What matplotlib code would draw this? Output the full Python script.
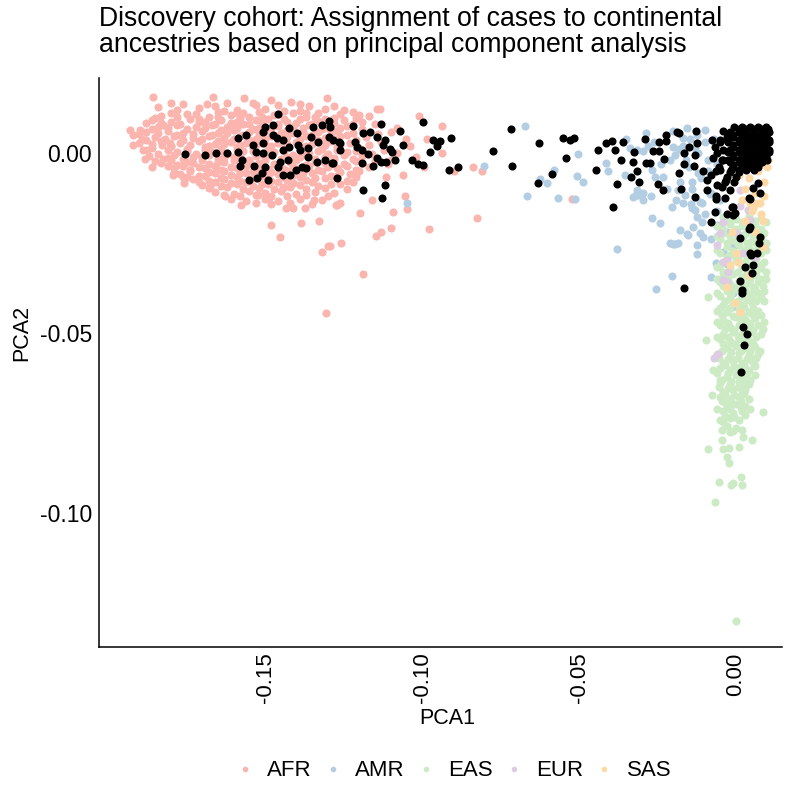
import matplotlib
matplotlib.use("Agg")
import matplotlib.pyplot as plt
from matplotlib.lines import Line2D

plt.rcParams['font.family'] = ['Liberation Sans', 'DejaVu Sans']

TITLE = "Discovery cohort: Assignment of cases to continental\nancestries based on principal component analysis"
XLABEL = "PCA1"
YLABEL = "PCA2"
XTICKS = [-0.15, -0.10, -0.05, 0.00]
XTICK_LABELS = ["-0.15", "-0.10", "-0.05", "0.00"]
YTICKS = [0.00, -0.05, -0.10]
YTICK_LABELS = ["0.00", "-0.05", "-0.10"]
GROUPS = ["AFR", "AMR", "EAS", "EUR", "SAS"]
COLORS = {"AFR": "#FBB4AE", "AMR": "#B3CDE3", "EAS": "#CCEBC5", "EUR": "#DECBE4", "SAS": "#FED9A6"}

AFR = [
    (-0.1930, 0.0064), (-0.1920, 0.0050), (-0.1898, 0.0064), (-0.1892, 0.0039), (-0.1876, 0.0008),
    (-0.1882, -0.0017), (-0.1860, -0.0039), (-0.1857, 0.0156), (-0.1841, 0.0128), (-0.1799, 0.0139),
    (-0.1825, 0.0078), (-0.1828, 0.0022), (-0.1825, -0.0017), (-0.1803, 0.0028), (-0.1793, -0.0061),
    (-0.1761, -0.0067), (-0.1758, -0.0083), (-0.1666, 0.0156), (-0.1685, 0.0136), (-0.1621, 0.0139),
    (-0.1567, 0.0153), (-0.1481, 0.0147), (-0.1417, 0.0142), (-0.1303, 0.0153), (-0.1627, -0.0119),
    (-0.1576, -0.0144), (-0.1481, -0.0200), (-0.1452, -0.0233), (-0.1433, -0.0153), (-0.1411, -0.0153),
    (-0.1373, -0.0153), (-0.1385, -0.0194), (-0.1328, -0.0189), (-0.1318, -0.0275), (-0.1299, -0.0258),
    (-0.1258, -0.0250), (-0.1274, -0.0144), (-0.1261, -0.0139), (-0.1344, -0.0131), (-0.1522, -0.0117),
    (-0.1487, -0.0125), (-0.1443, -0.0097), (-0.1411, -0.0083), (-0.1675, -0.0092), (-0.1306, -0.0444),
    (-0.1143, 0.0122), (-0.1134, 0.0122), (-0.1010, 0.0103), (-0.0936, 0.0075), (-0.0984, 0.0039),
    (-0.0936, 0.0000), (-0.1038, 0.0019), (-0.0994, -0.0039), (-0.0898, -0.0050), (-0.0838, -0.0039),
    (-0.0809, -0.0050), (-0.1115, -0.0067), (-0.1159, -0.0131), (-0.1054, -0.0119), (-0.1048, -0.0156),
    (-0.1092, -0.0164), (-0.1197, -0.0167), (-0.1271, -0.0144), (-0.0825, -0.0181), (-0.1099, -0.0208),
    (-0.1131, -0.0219), (-0.1146, -0.0231), (-0.0978, -0.0211), (-0.1293, -0.0258), (-0.0522, -0.0128),
    (-0.1188, -0.0336), (-0.1590, 0.0120), (-0.1530, 0.0132), (-0.1360, 0.0130), (-0.1250, 0.0120),
    (-0.1200, 0.0105), (-0.1080, 0.0070), (-0.1050, 0.0040), (-0.1020, -0.0010), (-0.1060, -0.0060),
    (-0.1100, -0.0020),
    (-0.178, 0.0118), (-0.171, 0.0124), (-0.163, 0.0116), (-0.157, 0.0110), (-0.150, 0.0121),
    (-0.144, 0.0115), (-0.137, 0.0112), (-0.131, 0.0122), (-0.126, 0.0108),
    (-0.183, 0.0103), (-0.175, 0.0108), (-0.168, 0.0100), (-0.161, 0.0106), (-0.155, 0.0099),
    (-0.147, 0.0104), (-0.141, 0.0110), (-0.134, 0.0101), (-0.128, 0.0097), (-0.117, 0.0102),
    (-0.186, 0.0091), (-0.180, 0.0087), (-0.174, 0.0094), (-0.169, 0.0086), (-0.164, 0.0092),
    (-0.159, 0.0085), (-0.153, 0.0090), (-0.149, 0.0095), (-0.143, 0.0087), (-0.139, 0.0093),
    (-0.133, 0.0088), (-0.125, 0.0092), (-0.119, 0.0085),
    (-0.184, 0.0073), (-0.178, 0.0078), (-0.172, 0.0071), (-0.167, 0.0077), (-0.162, 0.0072),
    (-0.157, 0.0079), (-0.152, 0.0070), (-0.146, 0.0076), (-0.141, 0.0072), (-0.136, 0.0078),
    (-0.130, 0.0070), (-0.124, 0.0075), (-0.115, 0.0079),
    (-0.188, 0.0058), (-0.181, 0.0062), (-0.176, 0.0056), (-0.170, 0.0061), (-0.165, 0.0055),
    (-0.160, 0.0063), (-0.155, 0.0057), (-0.150, 0.0060), (-0.145, 0.0054), (-0.138, 0.0062),
    (-0.133, 0.0057), (-0.127, 0.0061), (-0.122, 0.0055), (-0.110, 0.0058),
    (-0.185, 0.0043), (-0.179, 0.0047), (-0.173, 0.0041), (-0.168, 0.0048), (-0.163, 0.0042),
    (-0.158, 0.0046), (-0.153, 0.0040), (-0.148, 0.0047), (-0.143, 0.0043), (-0.137, 0.0048),
    (-0.131, 0.0041), (-0.126, 0.0046), (-0.118, 0.0043),
    (-0.190, 0.0028), (-0.183, 0.0032), (-0.177, 0.0027), (-0.171, 0.0033), (-0.166, 0.0026),
    (-0.161, 0.0031), (-0.156, 0.0028), (-0.151, 0.0034), (-0.146, 0.0027), (-0.140, 0.0031),
    (-0.135, 0.0025), (-0.129, 0.0032), (-0.123, 0.0028), (-0.113, 0.0030),
    (-0.186, 0.0013), (-0.180, 0.0018), (-0.175, 0.0012), (-0.169, 0.0017), (-0.164, 0.0011),
    (-0.159, 0.0016), (-0.154, 0.0013), (-0.149, 0.0019), (-0.144, 0.0012), (-0.138, 0.0017),
    (-0.132, 0.0011), (-0.127, 0.0016), (-0.120, 0.0014),
    (-0.184, -0.0002), (-0.178, 0.0003), (-0.172, -0.0004), (-0.167, 0.0002), (-0.162, -0.0003),
    (-0.157, 0.0004), (-0.152, -0.0002), (-0.147, 0.0003), (-0.141, -0.0005), (-0.136, 0.0001),
    (-0.130, -0.0003), (-0.124, 0.0002), (-0.116, -0.0004), (-0.108, 0.0001),
    (-0.181, -0.0013), (-0.176, -0.0018), (-0.170, -0.0012), (-0.165, -0.0017), (-0.160, -0.0011),
    (-0.155, -0.0019), (-0.150, -0.0013), (-0.145, -0.0016), (-0.139, -0.0011), (-0.134, -0.0018),
    (-0.128, -0.0014), (-0.122, -0.0017),
    (-0.183, -0.0028), (-0.178, -0.0033), (-0.173, -0.0027), (-0.168, -0.0032), (-0.163, -0.0026),
    (-0.158, -0.0034), (-0.152, -0.0029), (-0.147, -0.0031), (-0.142, -0.0026), (-0.137, -0.0033),
    (-0.131, -0.0028), (-0.125, -0.0032), (-0.119, -0.0027), (-0.111, -0.0031),
    (-0.179, -0.0043), (-0.174, -0.0048), (-0.169, -0.0042), (-0.164, -0.0047), (-0.159, -0.0041),
    (-0.154, -0.0049), (-0.149, -0.0044), (-0.144, -0.0046), (-0.139, -0.0041), (-0.133, -0.0048),
    (-0.127, -0.0043), (-0.121, -0.0047),
    (-0.177, -0.0058), (-0.171, -0.0063), (-0.166, -0.0057), (-0.161, -0.0062), (-0.156, -0.0056),
    (-0.151, -0.0064), (-0.146, -0.0059), (-0.141, -0.0061), (-0.135, -0.0056), (-0.129, -0.0063),
    (-0.123, -0.0058),
    (-0.173, -0.0073), (-0.168, -0.0078), (-0.163, -0.0072), (-0.158, -0.0077), (-0.153, -0.0071),
    (-0.148, -0.0079), (-0.143, -0.0074), (-0.137, -0.0076), (-0.131, -0.0071), (-0.124, -0.0078),
    (-0.170, -0.0088), (-0.164, -0.0093), (-0.159, -0.0087), (-0.154, -0.0092), (-0.149, -0.0086),
    (-0.144, -0.0094), (-0.139, -0.0089), (-0.133, -0.0091), (-0.126, -0.0086),
    (-0.166, -0.0108), (-0.160, -0.0113), (-0.155, -0.0107), (-0.150, -0.0112), (-0.145, -0.0106),
    (-0.140, -0.0114), (-0.134, -0.0109), (-0.128, -0.0111),
    (-0.161, -0.0128), (-0.156, -0.0133), (-0.150, -0.0127), (-0.146, -0.0134), (-0.139, -0.0129),
    (-0.132, -0.0131),
]

AFR_DENSE = [
    (-0.176, 0.0135), (-0.166, 0.0131), (-0.154, 0.0138), (-0.146, 0.0133), (-0.139, 0.0136), (-0.128, 0.0131),
    (-0.180, 0.0112), (-0.172, 0.0109), (-0.165, 0.0114), (-0.159, 0.0110), (-0.152, 0.0113),
    (-0.146, 0.0108), (-0.139, 0.0115), (-0.133, 0.0110), (-0.122, 0.0113),
    (-0.185, 0.0097), (-0.178, 0.0099), (-0.171, 0.0095), (-0.165, 0.0100), (-0.158, 0.0096),
    (-0.151, 0.0099), (-0.144, 0.0094), (-0.137, 0.0100), (-0.131, 0.0095), (-0.121, 0.0098),
    (-0.188, 0.0082), (-0.183, 0.0084), (-0.177, 0.0080), (-0.171, 0.0085), (-0.166, 0.0081),
    (-0.161, 0.0083), (-0.155, 0.0079), (-0.151, 0.0084), (-0.146, 0.0080), (-0.140, 0.0083),
    (-0.135, 0.0081), (-0.128, 0.0084), (-0.122, 0.0080),
    (-0.186, 0.0067), (-0.181, 0.0069), (-0.175, 0.0065), (-0.169, 0.0068), (-0.164, 0.0064),
    (-0.159, 0.0069), (-0.154, 0.0066), (-0.148, 0.0068), (-0.143, 0.0064), (-0.138, 0.0069),
    (-0.132, 0.0065), (-0.126, 0.0068), (-0.119, 0.0066),
    (-0.190, 0.0052), (-0.184, 0.0054), (-0.178, 0.0050), (-0.173, 0.0053), (-0.167, 0.0049),
    (-0.162, 0.0054), (-0.157, 0.0051), (-0.152, 0.0053), (-0.147, 0.0049), (-0.141, 0.0054),
    (-0.135, 0.0050), (-0.129, 0.0053), (-0.124, 0.0051), (-0.114, 0.0052),
    (-0.188, 0.0037), (-0.182, 0.0039), (-0.176, 0.0035), (-0.170, 0.0038), (-0.165, 0.0034),
    (-0.160, 0.0039), (-0.155, 0.0036), (-0.150, 0.0038), (-0.145, 0.0034), (-0.139, 0.0039),
    (-0.133, 0.0035), (-0.127, 0.0038), (-0.121, 0.0036),
    (-0.192, 0.0022), (-0.186, 0.0024), (-0.180, 0.0020), (-0.174, 0.0023), (-0.168, 0.0019),
    (-0.163, 0.0024), (-0.158, 0.0021), (-0.153, 0.0023), (-0.148, 0.0019), (-0.143, 0.0024),
    (-0.137, 0.0020), (-0.131, 0.0023), (-0.126, 0.0021), (-0.117, 0.0022),
    (-0.189, 0.0007), (-0.181, 0.0009), (-0.175, 0.0005), (-0.169, 0.0008), (-0.164, 0.0004),
    (-0.159, 0.0009), (-0.154, 0.0006), (-0.149, 0.0008), (-0.144, 0.0004), (-0.139, 0.0009),
    (-0.133, 0.0005), (-0.127, 0.0008), (-0.121, 0.0006), (-0.112, 0.0007),
    (-0.187, -0.0008), (-0.179, -0.0006), (-0.173, -0.0010), (-0.168, -0.0007), (-0.163, -0.0011),
    (-0.158, -0.0006), (-0.153, -0.0009), (-0.148, -0.0007), (-0.143, -0.0011), (-0.137, -0.0006),
    (-0.131, -0.0010), (-0.125, -0.0007), (-0.119, -0.0009),
    (-0.185, -0.0022), (-0.180, -0.0020), (-0.175, -0.0024), (-0.170, -0.0021), (-0.165, -0.0025),
    (-0.160, -0.0020), (-0.155, -0.0023), (-0.150, -0.0021), (-0.145, -0.0025), (-0.140, -0.0020),
    (-0.134, -0.0024), (-0.128, -0.0021), (-0.121, -0.0023), (-0.115, -0.0022),
    (-0.181, -0.0037), (-0.176, -0.0035), (-0.171, -0.0039), (-0.166, -0.0036), (-0.161, -0.0040),
    (-0.156, -0.0035), (-0.151, -0.0038), (-0.146, -0.0036), (-0.141, -0.0040), (-0.136, -0.0035),
    (-0.130, -0.0039), (-0.124, -0.0036), (-0.117, -0.0038),
    (-0.179, -0.0052), (-0.174, -0.0050), (-0.168, -0.0054), (-0.163, -0.0051), (-0.158, -0.0055),
    (-0.153, -0.0050), (-0.148, -0.0053), (-0.143, -0.0051), (-0.138, -0.0055), (-0.132, -0.0050),
    (-0.126, -0.0054), (-0.120, -0.0051),
    (-0.175, -0.0067), (-0.169, -0.0065), (-0.164, -0.0069), (-0.159, -0.0066), (-0.154, -0.0070),
    (-0.149, -0.0065), (-0.144, -0.0068), (-0.139, -0.0066), (-0.134, -0.0070), (-0.127, -0.0065),
    (-0.121, -0.0068),
    (-0.171, -0.0082), (-0.166, -0.0080), (-0.161, -0.0084), (-0.156, -0.0081), (-0.151, -0.0085),
    (-0.146, -0.0080), (-0.141, -0.0083), (-0.135, -0.0081), (-0.129, -0.0085), (-0.122, -0.0080),
    (-0.168, -0.0098), (-0.162, -0.0096), (-0.157, -0.0100), (-0.152, -0.0097), (-0.147, -0.0101),
    (-0.142, -0.0096), (-0.137, -0.0099), (-0.131, -0.0097), (-0.124, -0.0100),
    (-0.163, -0.0118), (-0.158, -0.0120), (-0.153, -0.0116), (-0.148, -0.0119), (-0.143, -0.0121),
    (-0.137, -0.0117), (-0.130, -0.0120),
    (-0.153, -0.0140), (-0.148, -0.0143), (-0.142, -0.0139), (-0.135, -0.0142),
]

AMR = [
    (-0.0672, 0.0075), (-0.0803, -0.0036), (-0.1048, -0.0139), (-0.0666, -0.0119), (-0.0624, -0.0072),
    (-0.0602, -0.0083), (-0.0580, -0.0047), (-0.0567, -0.0125), (-0.0513, -0.0128), (-0.0503, -0.0003),
    (-0.0506, -0.0064), (-0.0487, -0.0081), (-0.0414, -0.0028), (-0.0408, -0.0050), (-0.0354, -0.0061),
    (-0.0338, 0.0014), (-0.0315, 0.0008), (-0.0296, 0.0006), (-0.0268, -0.0047), (-0.0258, -0.0067),
    (-0.0232, -0.0067), (-0.0201, 0.0017), (-0.0194, -0.0006), (-0.0169, 0.0042), (-0.0146, 0.0039),
    (-0.0131, 0.0014), (-0.0178, -0.0081), (-0.0140, -0.0081), (-0.0121, -0.0056), (-0.0185, -0.0103),
    (-0.0162, -0.0117), (-0.0140, -0.0153), (-0.0115, -0.0136), (-0.0204, -0.0150), (-0.0268, -0.0181),
    (-0.0242, -0.0194), (-0.0315, -0.0103), (-0.0312, -0.0117), (-0.0328, -0.0122), (-0.0178, -0.0214),
    (-0.0156, -0.0225), (-0.0137, -0.0206), (-0.0124, -0.0178), (-0.0108, -0.0192), (-0.0105, -0.0233),
    (-0.0124, -0.0256), (-0.0201, -0.0253), (-0.0210, -0.0250), (-0.0379, -0.0267), (-0.0124, -0.0281),
    (-0.0041, -0.0275), (-0.0287, 0.0056), (-0.0156, 0.0069), (-0.0099, 0.0064), (-0.0124, 0.0050),
    (-0.0255, -0.0378), (-0.0204, -0.0342), (-0.0194, -0.0253), (-0.0185, -0.0250), (-0.0064, -0.0306),
    (-0.0080, -0.0344), (-0.0169, -0.0139), (-0.0143, -0.0142), (-0.0108, -0.0139), (-0.0083, -0.0114),
    (-0.0296, -0.0111), (-0.0318, -0.0117), (-0.0296, -0.0131), (-0.0029, -0.0308), (-0.0010, -0.0389),
    (-0.0013, -0.0428), (-0.0115, -0.0222), (-0.0153, -0.0228), (-0.0131, -0.0158),
    (-0.0200, 0.0060), (-0.0170, 0.0020), (-0.0120, 0.0000), (-0.0090, -0.0020), (-0.0150, -0.0040),
    (-0.0110, -0.0070), (-0.0060, -0.0030), (-0.0070, 0.0040), (-0.0040, -0.0090), (-0.0080, -0.0110),
    (-0.0050, -0.0130), (-0.0210, -0.0020), (-0.0260, 0.0030), (-0.0350, 0.0040), (-0.0220, -0.0100),
    (-0.0270, -0.0120), (-0.0100, -0.0170), (-0.0060, -0.0200), (-0.0030, -0.0220), (-0.0080, -0.0240),
    (-0.0010, -0.0260), (-0.0180, 0.0010), (-0.0160, -0.0020), (-0.0100, 0.0030), (-0.0090, -0.0050),
    (-0.0140, -0.0100), (-0.0190, -0.0130), (-0.0060, -0.0160), (-0.0240, -0.0030), (-0.0280, 0.0020),
]

EAS = [
    (-0.004, -0.0178), (0.000, -0.0183), (0.004, -0.0176), (0.008, -0.0182),
    (-0.006, -0.0202), (-0.002, -0.0197), (0.002, -0.0203), (0.006, -0.0198),
    (-0.004, -0.0223), (0.000, -0.0217), (0.003, -0.0224), (0.007, -0.0219), (0.009, -0.0222),
    (-0.005, -0.0238), (-0.001, -0.0243), (0.002, -0.0237), (0.005, -0.0244), (0.008, -0.0239),
    (-0.003, -0.0262), (0.001, -0.0257), (0.004, -0.0263), (0.007, -0.0258),
    (-0.005, -0.0278), (-0.002, -0.0284), (0.001, -0.0279), (0.005, -0.0285), (0.008, -0.0277),
    (-0.004, -0.0303), (0.000, -0.0297), (0.003, -0.0302), (0.006, -0.0296), (0.009, -0.0304),
    (-0.006, -0.0318), (-0.002, -0.0323), (0.002, -0.0317), (0.005, -0.0322), (0.008, -0.0319),
    (-0.004, -0.0343), (-0.001, -0.0337), (0.003, -0.0342), (0.006, -0.0338),
    (-0.005, -0.0358), (-0.002, -0.0363), (0.001, -0.0357), (0.004, -0.0362), (0.007, -0.0359),
    (-0.003, -0.0383), (0.000, -0.0377), (0.003, -0.0382), (0.006, -0.0378), (0.009, -0.0384),
    (-0.005, -0.0398), (-0.002, -0.0403), (0.002, -0.0397), (0.005, -0.0402), (0.008, -0.0399),
    (-0.004, -0.0423), (-0.001, -0.0417), (0.002, -0.0422), (0.005, -0.0418),
    (-0.006, -0.0438), (-0.003, -0.0443), (0.001, -0.0437), (0.004, -0.0442), (0.007, -0.0439),
    (-0.004, -0.0463), (0.000, -0.0457), (0.003, -0.0462), (0.006, -0.0458),
    (-0.005, -0.0478), (-0.002, -0.0483), (0.001, -0.0477), (0.004, -0.0482), (0.007, -0.0479),
    (-0.004, -0.0503), (-0.001, -0.0497), (0.002, -0.0502), (0.005, -0.0498), (0.008, -0.0504),
    (-0.005, -0.0518), (-0.002, -0.0523), (0.001, -0.0517), (0.004, -0.0522),
    (-0.003, -0.0543), (0.000, -0.0537), (0.003, -0.0542), (0.006, -0.0538),
    (-0.006, -0.0558), (-0.002, -0.0563), (0.001, -0.0557), (0.004, -0.0562), (0.007, -0.0559),
    (-0.004, -0.0583), (-0.001, -0.0577), (0.002, -0.0582), (0.005, -0.0578),
    (-0.005, -0.0598), (-0.002, -0.0603), (0.001, -0.0597), (0.004, -0.0602),
    (-0.003, -0.0623), (0.000, -0.0617), (0.003, -0.0622), (0.006, -0.0618),
    (-0.005, -0.0638), (-0.002, -0.0643), (0.001, -0.0637), (0.004, -0.0642),
    (-0.004, -0.0663), (-0.001, -0.0657), (0.002, -0.0662),
    (-0.005, -0.0678), (-0.002, -0.0683), (0.001, -0.0677), (0.004, -0.0682),
    (-0.003, -0.0703), (0.000, -0.0697), (0.003, -0.0702),
    (-0.004, -0.0718), (-0.001, -0.0723), (0.002, -0.0717),
    (-0.005, -0.0743), (-0.002, -0.0737), (0.001, -0.0742),
    (-0.003, -0.0758), (0.000, -0.0763),
    (0.0000, -0.1300), (-0.0089, -0.0822), (-0.0067, -0.0969), (0.0016, -0.0900), (0.0019, -0.0922),
    (-0.0054, -0.0914), (-0.0016, -0.0922), (-0.0010, -0.0917), (0.0051, -0.0797), (0.0022, -0.0789),
    (0.0010, -0.0817), (-0.0022, -0.0819), (-0.0041, -0.0822), (-0.0029, -0.0844), (-0.0022, -0.0861),
    (-0.0045, -0.0797), (-0.0019, -0.0775), (-0.0041, -0.0747), (-0.0035, -0.0692), (-0.0076, -0.0672),
    (-0.0073, -0.0603), (-0.0051, -0.0631), (0.0057, -0.0586), (0.0029, -0.0636), (0.0029, -0.0658),
    (-0.0090, -0.0400), (-0.0095, -0.0520), (0.0095, -0.0350), (0.0090, -0.0470), (0.0085, -0.0720),
]

EAS_DENSE = [
    (-0.002, -0.0190), (0.002, -0.0192), (0.006, -0.0189), (0.0095, -0.0191),
    (-0.004, -0.0210), (0.000, -0.0212), (0.004, -0.0209), (0.008, -0.0211),
    (-0.006, -0.0230), (-0.002, -0.0232), (0.001, -0.0229), (0.0055, -0.0231),
    (-0.003, -0.0250), (0.0005, -0.0252), (0.0035, -0.0249), (0.0065, -0.0251), (0.0095, -0.0250),
    (-0.006, -0.0270), (-0.001, -0.0272), (0.0025, -0.0269), (0.006, -0.0271), (0.0095, -0.0270),
    (-0.003, -0.0290), (0.0005, -0.0292), (0.0035, -0.0289), (0.0065, -0.0291),
    (-0.005, -0.0310), (-0.002, -0.0312), (0.0015, -0.0309), (0.0045, -0.0311), (0.0075, -0.0310),
    (-0.004, -0.0330), (0.0005, -0.0332), (0.0035, -0.0329), (0.0065, -0.0331), (0.0095, -0.0330),
    (-0.006, -0.0350), (-0.0025, -0.0352), (0.0015, -0.0349), (0.0045, -0.0351), (0.008, -0.0350),
    (-0.004, -0.0370), (-0.0005, -0.0372), (0.0025, -0.0369), (0.0055, -0.0371), (0.0085, -0.0370),
    (-0.006, -0.0390), (-0.0015, -0.0392), (0.0015, -0.0389), (0.0045, -0.0391), (0.007, -0.0390),
    (-0.0035, -0.0410), (0.0005, -0.0412), (0.0035, -0.0409), (0.0065, -0.0411), (0.009, -0.0410),
    (-0.005, -0.0430), (-0.002, -0.0432), (0.0025, -0.0429), (0.0055, -0.0431),
    (-0.0045, -0.0450), (-0.001, -0.0452), (0.002, -0.0449), (0.0055, -0.0451), (0.008, -0.0450),
    (-0.006, -0.0470), (-0.0025, -0.0472), (0.0015, -0.0469), (0.0045, -0.0471),
    (-0.0035, -0.0490), (-0.0005, -0.0492), (0.0025, -0.0489), (0.0055, -0.0491), (0.0085, -0.0490),
    (-0.006, -0.0510), (-0.0025, -0.0512), (0.0005, -0.0509), (0.0035, -0.0511), (0.0065, -0.0510),
    (-0.004, -0.0530), (-0.0005, -0.0532), (0.0025, -0.0529), (0.0055, -0.0531),
    (-0.0045, -0.0550), (-0.0015, -0.0552), (0.0015, -0.0549), (0.0045, -0.0551), (0.0075, -0.0550),
    (-0.0055, -0.0570), (-0.0025, -0.0572), (0.0005, -0.0569), (0.0035, -0.0571), (0.0065, -0.0570),
    (-0.0035, -0.0590), (-0.0005, -0.0592), (0.0025, -0.0589), (0.006, -0.0591),
    (-0.006, -0.0610), (-0.0025, -0.0612), (0.0005, -0.0609), (0.0035, -0.0611),
    (-0.0045, -0.0630), (-0.0015, -0.0632), (0.0015, -0.0629), (0.0045, -0.0631),
    (-0.0055, -0.0650), (-0.0025, -0.0652), (0.0005, -0.0649), (0.003, -0.0651),
    (-0.0035, -0.0670), (-0.0005, -0.0672), (0.0025, -0.0669),
    (-0.0045, -0.0690), (-0.0015, -0.0692), (0.0015, -0.0689),
    (-0.006, -0.0710), (-0.002, -0.0712), (0.0015, -0.0709), (0.0045, -0.0711),
    (-0.0035, -0.0730), (-0.0005, -0.0732), (0.003, -0.0729),
    (-0.0045, -0.0770), (-0.001, -0.0772), (0.002, -0.0769),
]

EUR = [
    (-0.0051, -0.0222), (-0.0041, -0.0303), (-0.0025, -0.0331), (-0.0029, -0.0358), (0.0022, -0.0278),
    (0.0013, -0.0147), (0.0045, -0.0186), (0.0003, -0.0222), (-0.0057, -0.0558), (-0.0029, -0.0297),
    (-0.0041, -0.0353), (0.0038, -0.0158), (0.0054, -0.0150), (-0.0041, -0.0192), (0.0013, -0.0103),
    (-0.0022, 0.0008), (0.0013, 0.0064), (-0.0070, -0.0570), (-0.0060, -0.0255), (0.0060, -0.0290),
]

SAS = [
    (0.0054, -0.0153), (0.0000, -0.0278), (0.0006, -0.0303), (-0.0029, -0.0372), (-0.0003, -0.0417),
    (-0.0013, -0.0219), (0.0067, -0.0139), (0.0045, -0.0139), (0.0076, -0.0139), (0.0013, -0.0442),
    (0.0010, -0.0060), (0.0040, -0.0070), (0.0070, -0.0050), (0.0090, -0.0080), (0.0030, -0.0100),
    (0.0060, -0.0110), (0.0090, -0.0120), (0.0020, -0.0130), (0.0050, -0.0160), (0.0080, -0.0170),
    (0.0100, -0.0040), (0.0095, 0.0000), (0.0102, -0.0020), (0.0085, -0.0190), (0.0030, -0.0190),
    (-0.0010, -0.0160), (0.0060, -0.0220), (0.0085, -0.0260), (-0.0020, -0.0310), (0.0040, -0.0340),
]

CASES = [
    (-0.1755, -0.0003), (-0.1690, -0.0006), (-0.1656, 0.0000), (-0.1620, 0.0000), (-0.1586, 0.0003),
    (-0.1586, 0.0042), (-0.1560, 0.0050), (-0.1573, -0.0019), (-0.1580, -0.0036), (-0.1538, 0.0022),
    (-0.1530, 0.0003), (-0.1535, -0.0036), (-0.1550, -0.0075), (-0.1525, -0.0070), (-0.1510, -0.0056),
    (-0.1490, -0.0075), (-0.1500, -0.0039), (-0.1506, 0.0000), (-0.1506, 0.0028), (-0.1506, 0.0058),
    (-0.1500, 0.0072), (-0.1475, 0.0078), (-0.1459, 0.0108), (-0.1475, 0.0050), (-0.1462, 0.0042),
    (-0.1443, 0.0036), (-0.1443, 0.0008), (-0.1478, -0.0006), (-0.1452, -0.0025), (-0.1459, -0.0039),
    (-0.1443, -0.0061), (-0.1420, -0.0061), (-0.1427, -0.0019), (-0.1424, 0.0017), (-0.1424, 0.0069),
    (-0.1398, 0.0056), (-0.1395, 0.0022), (-0.1389, 0.0008), (-0.1382, -0.0039), (-0.1369, -0.0042),
    (-0.1363, -0.0011), (-0.1363, 0.0014), (-0.1347, 0.0072), (-0.1354, 0.0044), (-0.1331, 0.0031),
    (-0.1334, -0.0025), (-0.1318, 0.0078), (-0.1296, 0.0089), (-0.1293, 0.0072), (-0.1296, 0.0044),
    (-0.1283, 0.0036), (-0.1264, 0.0031), (-0.1261, 0.0008), (-0.1309, -0.0019), (-0.1287, -0.0028),
    (-0.1271, -0.0070), (-0.1401, -0.0047),
    (-0.1220, 0.0075), (-0.1131, 0.0081), (-0.1188, 0.0056), (-0.1166, 0.0058), (-0.1143, 0.0044),
    (-0.1070, 0.0061), (-0.0997, 0.0086), (-0.0965, 0.0036), (-0.0943, 0.0033), (-0.0908, 0.0042),
    (-0.0952, 0.0019), (-0.0975, 0.0003), (-0.1061, 0.0022), (-0.1102, 0.0011), (-0.1118, 0.0036),
    (-0.1124, 0.0022), (-0.1096, 0.0003), (-0.1172, -0.0003), (-0.1191, 0.0008), (-0.1213, 0.0031),
    (-0.1207, 0.0017), (-0.1261, 0.0028), (-0.1283, -0.0028), (-0.1191, -0.0028), (-0.1143, -0.0014),
    (-0.1131, -0.0025), (-0.1156, -0.0036), (-0.1115, -0.0025), (-0.1086, -0.0019), (-0.1032, -0.0019),
    (-0.1013, -0.0031), (-0.0997, -0.0033), (-0.0914, -0.0047), (-0.0885, -0.0039), (-0.1118, -0.0089),
    (-0.1188, -0.0103), (-0.1127, -0.0125), (-0.0774, 0.0006), (-0.0717, 0.0067), (-0.0713, -0.0036),
    (-0.0627, 0.0028), (-0.0551, 0.0042), (-0.0529, 0.0036), (-0.0516, 0.0042), (-0.0541, -0.0014),
    (-0.0586, -0.0058), (-0.0631, -0.0083),
    (-0.0446, -0.0047), (-0.0439, 0.0008), (-0.0414, 0.0028), (-0.0395, 0.0033), (-0.0360, 0.0031),
    (-0.0385, 0.0008), (-0.0366, -0.0019), (-0.0325, 0.0003), (-0.0328, -0.0025), (-0.0315, -0.0050),
    (-0.0334, -0.0067), (-0.0309, -0.0081), (-0.0379, -0.0086), (-0.0392, -0.0150), (-0.0290, 0.0039),
    (-0.0287, -0.0028), (-0.0264, 0.0006), (-0.0274, -0.0028), (-0.0245, 0.0031), (-0.0245, 0.0006),
    (-0.0223, 0.0050), (-0.0223, 0.0033), (-0.0229, -0.0017), (-0.0248, -0.0086), (-0.0232, -0.0103),
    (-0.0188, 0.0058), (-0.0182, 0.0056), (-0.0166, 0.0000), (-0.0166, -0.0031), (-0.0182, -0.0056),
    (-0.0175, -0.0100), (-0.0150, 0.0017), (-0.0127, 0.0061), (-0.0124, 0.0028), (-0.0131, -0.0006),
    (-0.0134, -0.0036), (-0.0131, -0.0122), (-0.0105, -0.0050), (-0.0092, -0.0075), (-0.0092, -0.0103),
    (-0.0067, -0.0164), (-0.0080, -0.0192), (-0.0076, 0.0036), (-0.0067, 0.0017), (-0.0051, 0.0036),
    (-0.0029, 0.0044), (-0.0041, 0.0008), (-0.0041, -0.0019), (-0.0073, -0.0014), (-0.0051, -0.0047),
    (-0.0032, -0.0075), (-0.0019, -0.0103), (-0.0013, -0.0150), (-0.0003, -0.0167), (0.0013, -0.0236),
    (0.0045, -0.0206), (0.0041, -0.0125), (0.0054, -0.0097), (0.0070, -0.0083), (0.0076, -0.0111),
    (0.0076, -0.0233), (0.0073, -0.0250), (0.0045, -0.0278), (0.0067, -0.0278),
    (-0.0064, -0.0128), (-0.0029, -0.0169), (-0.0010, -0.0172), (-0.0010, -0.0150), (0.0045, -0.0128),
    (0.0041, -0.0211), (0.0048, -0.0283), (0.0054, -0.0311), (0.0029, -0.0317), (0.0051, -0.0333),
    (0.0013, -0.0356), (0.0019, -0.0381), (0.0019, -0.0389), (-0.0166, -0.0375), (0.0022, -0.0483),
    (0.0035, -0.0503), (0.0025, -0.0533), (0.0016, -0.0608),
]

CASES_CLUSTER = [
    (-0.0005, 0.0072), (0.0020, 0.0072), (0.0045, 0.0072), (0.0070, 0.0072), (0.0095, 0.0072),
    (-0.0020, 0.0058), (0.0008, 0.0058), (0.0033, 0.0058), (0.0058, 0.0058), (0.0083, 0.0058), (0.0105, 0.0058),
    (-0.0010, 0.0044), (0.0020, 0.0044), (0.0045, 0.0044), (0.0070, 0.0044), (0.0095, 0.0044),
    (-0.0025, 0.0030), (0.0008, 0.0030), (0.0033, 0.0030), (0.0058, 0.0030), (0.0083, 0.0030), (0.0105, 0.0030),
    (-0.0010, 0.0016), (0.0020, 0.0016), (0.0045, 0.0016), (0.0070, 0.0016), (0.0095, 0.0016),
    (-0.0025, 0.0002), (0.0008, 0.0002), (0.0033, 0.0002), (0.0058, 0.0002), (0.0083, 0.0002), (0.0105, 0.0002),
    (-0.0010, -0.0012), (0.0020, -0.0012), (0.0045, -0.0012), (0.0070, -0.0012), (0.0095, -0.0012),
    (-0.0020, -0.0026), (0.0008, -0.0026), (0.0033, -0.0026), (0.0058, -0.0026), (0.0083, -0.0026),
    (-0.0010, -0.0040), (0.0020, -0.0040), (0.0045, -0.0040), (0.0070, -0.0040),
    (-0.0020, -0.0054), (0.0008, -0.0054), (-0.0030, -0.0068), (0.0000, -0.0068),
    (-0.0035, -0.0082), (-0.0005, -0.0082), (-0.0045, -0.0096), (-0.0055, -0.0040), (-0.0080, -0.0060),
    (-0.0060, -0.0090), (-0.0035, -0.0125), (-0.0065, -0.0120),
    (0.0008, 0.0065), (0.0033, 0.0065), (0.0058, 0.0065), (0.0083, 0.0065), (0.0103, 0.0065),
    (-0.0010, 0.0051), (0.0020, 0.0051), (0.0045, 0.0051), (0.0070, 0.0051), (0.0095, 0.0051),
    (-0.0030, 0.0037), (0.0008, 0.0037), (0.0033, 0.0037), (0.0058, 0.0037), (0.0083, 0.0037), (0.0105, 0.0037),
    (-0.0010, 0.0023), (0.0020, 0.0023), (0.0045, 0.0023), (0.0070, 0.0023), (0.0095, 0.0023),
    (-0.0020, 0.0009), (0.0008, 0.0009), (0.0033, 0.0009), (0.0058, 0.0009), (0.0083, 0.0009), (0.0105, 0.0009),
    (-0.0010, -0.0005), (0.0020, -0.0005), (0.0045, -0.0005), (0.0070, -0.0005), (0.0095, -0.0005),
    (-0.0025, -0.0019), (0.0008, -0.0019), (0.0033, -0.0019), (0.0058, -0.0019), (0.0083, -0.0019), (0.0100, -0.0019),
    (-0.0010, -0.0033), (0.0020, -0.0033), (0.0045, -0.0033), (0.0070, -0.0033),
    (-0.0015, -0.0047), (0.0008, -0.0047), (0.0033, -0.0047), (0.0058, -0.0047),
    (-0.0040, 0.0060), (-0.0050, 0.0030), (-0.0060, 0.0000), (-0.0045, -0.0020), (-0.0065, -0.0050),
]


def unzip(points):
    return [p[0] for p in points], [p[1] for p in points]


fig = plt.figure(figsize=(7.85, 7.86), dpi=100)
ax = fig.add_axes([99 / 785, 1 - 647 / 786, 683 / 785, (647 - 78) / 786])

data = {"AFR": AFR + AFR_DENSE, "AMR": AMR, "EAS": EAS + EAS_DENSE, "EUR": EUR, "SAS": SAS}
MARKER_SIZE = 34
for g in GROUPS:
    xs, ys = unzip(data[g])
    ax.scatter(xs, ys, s=MARKER_SIZE, c=COLORS[g], linewidths=0, zorder=2)
cx, cy = unzip(CASES + CASES_CLUSTER)
ax.scatter(cx, cy, s=MARKER_SIZE, c="black", linewidths=0, zorder=3)

ax.set_xlim(-0.2029, 0.01465)
ax.set_ylim(-0.1372, 0.0208)
ax.set_xticks(XTICKS)
ax.set_xticklabels(XTICK_LABELS, rotation=90, fontsize=16)
ax.set_yticks(YTICKS)
ax.set_yticklabels(YTICK_LABELS, fontsize=16.5)
ax.tick_params(length=0, colors="black")
ax.tick_params(axis="x", pad=4)
ax.tick_params(axis="y", pad=5)
for s in ["top", "right"]:
    ax.spines[s].set_visible(False)
for s in ["left", "bottom"]:
    ax.spines[s].set_linewidth(1.1)
    ax.spines[s].set_color("black")

fig.text(99 / 785, 1 - 6 / 786, TITLE, ha="left", va="top", fontsize=19.2, linespacing=1.0)
fig.text(447 / 785, 1 - 719 / 786, XLABEL, ha="center", va="center", fontsize=15.5)
fig.text(22 / 785, 1 - 333 / 786, YLABEL, ha="center", va="center", rotation=90, fontsize=15.5)

handles = [Line2D([0], [0], marker="o", linestyle="", markersize=4,
                  markerfacecolor=COLORS[g], markeredgewidth=0) for g in GROUPS]
fig.legend(handles, GROUPS, loc="center", bbox_to_anchor=(452.5 / 785, 1 - 771 / 786), ncol=5,
           frameon=False, fontsize=16, handlelength=1.0, handletextpad=0.5, columnspacing=0.45)

fig.savefig("out.png", dpi=100)
